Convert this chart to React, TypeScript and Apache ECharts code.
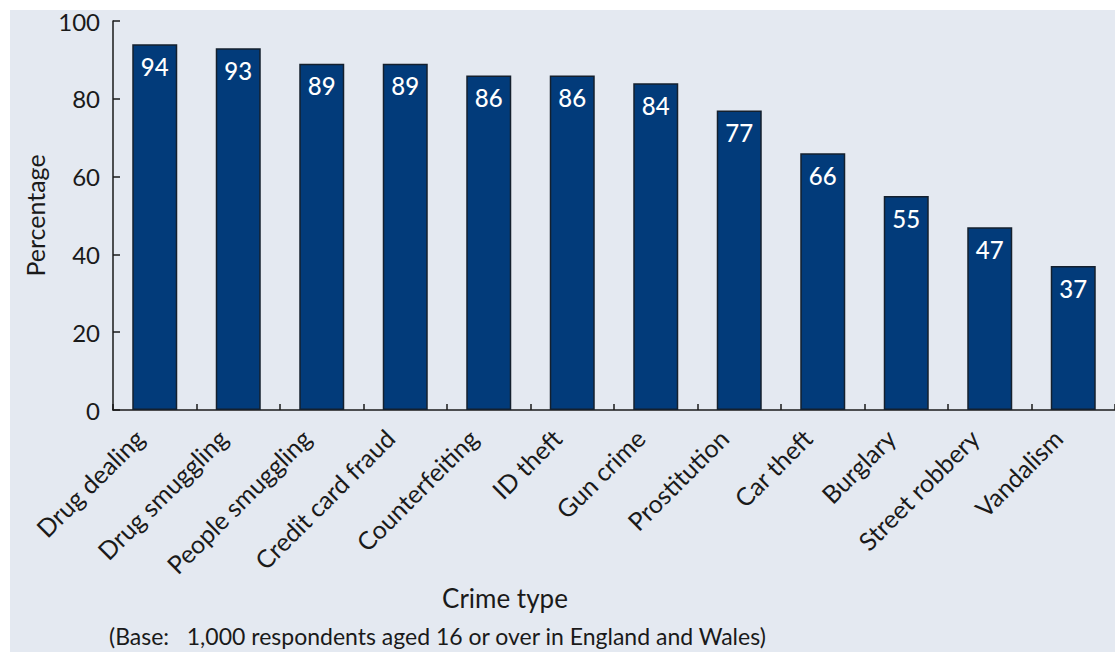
import React, { useEffect, useRef } from "react";
import * as echarts from "echarts";

const categories = [
  "Drug dealing",
  "Drug smuggling",
  "People smuggling",
  "Credit card fraud",
  "Counterfeiting",
  "ID theft",
  "Gun crime",
  "Prostitution",
  "Car theft",
  "Burglary",
  "Street robbery",
  "Vandalism",
];
const values = [94, 93, 89, 89, 86, 86, 84, 77, 66, 55, 47, 37];
const yTicks = [0, 20, 40, 60, 80, 100];

const FONT = "Lato, 'DejaVu Sans', sans-serif";

export default function App() {
  const ref = useRef<HTMLDivElement>(null);
  useEffect(() => {
    if (!ref.current) return;
    const chart = echarts.init(ref.current, undefined, { renderer: "svg" });
    chart.setOption({
      animation: false,
      backgroundColor: "#ffffff",
      graphic: [
        {
          type: "rect",
          z: -10,
          silent: true,
          shape: { x: 10, y: 10, width: 1105, height: 642 },
          style: { fill: "#E4E9F1" },
        },
        {
          type: "text",
          x: 505,
          y: 598,
          style: {
            text: "Crime type",
            font: `26px ${FONT}`,
            fill: "#1a1a1a",
            align: "center",
            verticalAlign: "middle",
          },
        },
        {
          type: "text",
          x: 109,
          y: 636,
          style: {
            text: "(Base:   1,000 respondents aged 16 or over in England and Wales)",
            font: `23px ${FONT}`,
            fill: "#1a1a1a",
            align: "left",
            verticalAlign: "middle",
          },
        },
      ],
      grid: { left: 113, right: -11, top: 21, bottom: 242, containLabel: false },
      xAxis: {
        type: "category",
        data: categories,
        axisLine: { show: true, lineStyle: { color: "#1a1a1a", width: 1.5 } },
        axisTick: { show: true, inside: true, length: 6, alignWithLabel: false, lineStyle: { color: "#1a1a1a", width: 1.5 } },
        axisLabel: {
          rotate: 45,
          interval: 0,
          margin: 8,
          fontSize: 25,
          fontFamily: FONT,
          color: "#1a1a1a",
          padding: [0, 22, 0, 0],
        },
      },
      yAxis: {
        type: "value",
        min: 0,
        max: 100,
        interval: 20,
        name: "Percentage",
        nameLocation: "middle",
        nameGap: 66,
        nameRotate: 90,
        nameTextStyle: { fontSize: 25, fontFamily: FONT, color: "#1a1a1a" },
        axisLine: { show: true, lineStyle: { color: "#1a1a1a", width: 1.5 } },
        axisTick: { show: true, inside: true, length: 7, lineStyle: { color: "#1a1a1a", width: 1.5 } },
        splitLine: { show: false },
        axisLabel: {
          margin: 13,
          fontSize: 24,
          fontFamily: FONT,
          color: "#1a1a1a",
          formatter: (v: number) => (yTicks.includes(v) ? String(v) : ""),
        },
      },
      series: [
        {
          type: "bar",
          data: values,
          barWidth: 45,
          itemStyle: { color: "#023B7A", borderColor: "#14202e", borderWidth: 1.5 },
          label: {
            show: true,
            position: "insideTop",
            distance: 10,
            fontSize: 24,
            fontFamily: FONT,
            fontWeight: 500,
            color: "#ffffff",
          },
        },
      ],
    });
    return () => chart.dispose();
  }, []);
  return (
    <div
      ref={ref}
      style={{ position: "absolute", left: 0, top: 0, width: 1115, height: 652 }}
    />
  );
}
